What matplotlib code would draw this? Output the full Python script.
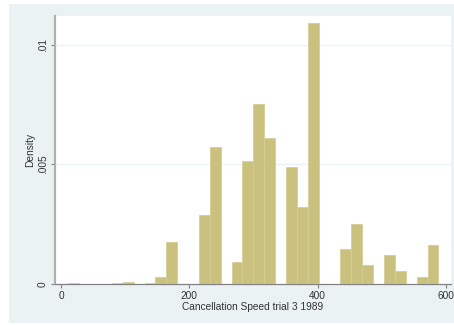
import matplotlib
matplotlib.use("Agg")
import matplotlib.pyplot as plt
from matplotlib.patches import Rectangle
import numpy as np

# Histogram data (Stata-style density histogram)
bin_min = 11.5
bin_width = 16.96
densities = [0.00003, 0.0, 0.00002, 0.00002, 0.00003, 0.00008, 0.00002, 0.00003,
             0.00028, 0.00174, 0.0, 0.0, 0.0029, 0.00572, 0.0, 0.00092,
             0.00513, 0.00754, 0.0061, 0.0, 0.00491, 0.00324, 0.01093, 0.00002,
             0.0, 0.00145, 0.00251, 0.00081, 0.0, 0.0012, 0.00053, 0.0,
             0.00029, 0.00162]
x_ticks = [0, 200, 400, 600]
x_tick_labels = ["0", "200", "400", "600"]
y_ticks = [0, 0.005, 0.01]
y_tick_labels = ["0", ".005", ".01"]
x_label = "Cancellation Speed trial 3 1989"
y_label = "Density"

plt.rcParams['font.family'] = ['Liberation Sans', 'DejaVu Sans']

fig = plt.figure(figsize=(4.54, 3.25), dpi=100)
fig.patch.set_facecolor('white')
# outer Stata background
fig.patches.append(Rectangle((9 / 454, 2 / 325), 1 - 9 / 454, 319 / 325,
                             transform=fig.transFigure, facecolor='#EAF2F3',
                             edgecolor='none', zorder=-10))

ax = fig.add_axes([55 / 454, 1 - 284 / 325, (451 - 55) / 454, (284 - 16) / 325])
ax.set_facecolor('white')

lefts = bin_min + bin_width * np.arange(len(densities))
ax.bar(lefts, densities, width=bin_width, align='edge', color='#C9C17D',
       edgecolor='#D5CE96', linewidth=0.6, zorder=3)

ax.set_xlim(-9.3, 607.8)
ax.set_ylim(0, 0.01121)

for y in y_ticks[1:]:
    ax.axhline(y, color='#EAF2F3', lw=0.9, zorder=1)

ax.set_xticks(x_ticks)
ax.set_xticklabels(x_tick_labels, fontsize=7.3, color='#333333')
ax.set_yticks(y_ticks)
ax.set_yticklabels(y_tick_labels, fontsize=7.3, color='#333333', rotation=90, va='center')
ax.tick_params(axis='both', length=3, width=0.8, color='#808080', pad=2)

ax.set_xlabel(x_label, fontsize=7.3, color='#333333', labelpad=1)
ax.set_ylabel(y_label, fontsize=7.3, color='#333333', labelpad=2)

for s in ['top', 'right']:
    ax.spines[s].set_visible(False)
ax.spines['left'].set_color('#B0B0B0')
ax.spines['left'].set_linewidth(1.6)
ax.spines['bottom'].set_color('#808080')
ax.spines['bottom'].set_linewidth(0.9)

fig.savefig('out.png', dpi=100, facecolor=fig.get_facecolor())
